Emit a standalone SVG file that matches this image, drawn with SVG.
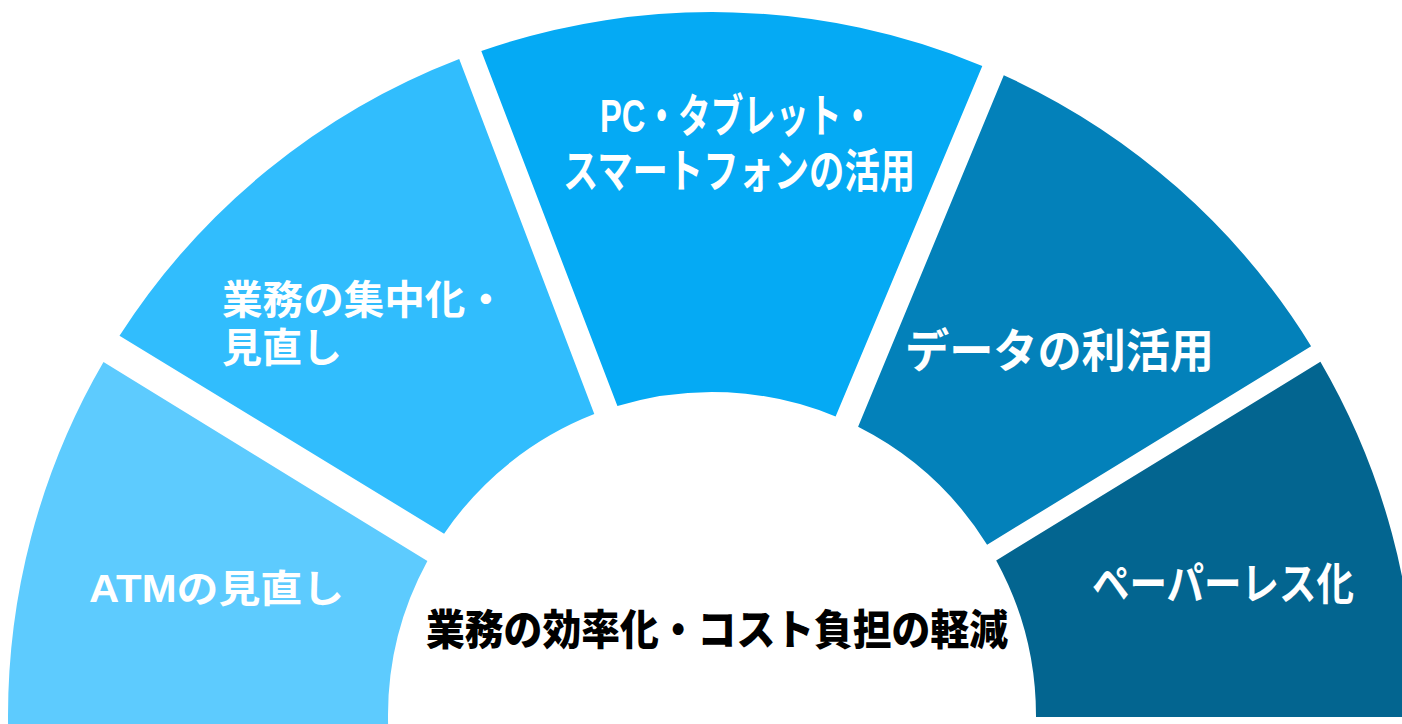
<svg xmlns="http://www.w3.org/2000/svg" width="1402" height="724" viewBox="0 0 1402 724">
  <style>
    .lbl { font-family: "Liberation Sans", "Noto Sans CJK JP", sans-serif; font-weight: bold; fill: #ffffff; }
    .ctr { font-family: "Noto Sans CJK JP", "Noto Sans", sans-serif; font-weight: 900; fill: #000000; }
  </style>
  <rect x="0" y="0" width="1402" height="724" fill="#ffffff"/>
  <g id="seg-atm">
    <path d="M 8.07 726 A 704 704 0 0 1 103.5 362 L 427.4 561.1 A 324 324 0 0 0 388.15 726 Z" fill="#5DCBFE"/>
    <text class="lbl" x="89" y="602" font-size="38" textLength="255" lengthAdjust="spacingAndGlyphs">ATMの見直し</text>
  </g>
  <g id="seg-gyomu">
    <path d="M 119.5 335.8 A 704 704 0 0 1 459.2 59 L 594.3 414.1 A 324 324 0 0 0 444.1 533.7 Z" fill="#31BDFD"/>
    <text class="lbl" font-size="40"><tspan x="222" y="314" textLength="284" lengthAdjust="spacingAndGlyphs">業務の集中化・</tspan><tspan x="222" y="362">見直し</tspan></text>
  </g>
  <g id="seg-pc">
    <path d="M 481.3 51 A 704 704 0 0 1 982.3 66 L 835.6 416.5 A 324 324 0 0 0 617.4 406.1 Z" fill="#05AAF4"/>
    <text class="lbl" font-size="46" text-anchor="middle"><tspan x="737" y="132" textLength="274" lengthAdjust="spacingAndGlyphs">PC・タブレット・</tspan><tspan x="739" y="187" textLength="352" lengthAdjust="spacingAndGlyphs">スマートフォンの活用</tspan></text>
  </g>
  <g id="seg-data">
    <path d="M 1003.8 75.2 A 704 704 0 0 1 1311.1 346.2 L 987.1 544.8 A 324 324 0 0 0 858.1 426.8 Z" fill="#0381BA"/>
    <text class="lbl" x="905" y="367" font-size="46" textLength="309" lengthAdjust="spacingAndGlyphs">データの利活用</text>
  </g>
  <g id="seg-paperless">
    <path d="M 1320.4 361.8 A 704 704 0 0 1 1416 717 L 1036 717 A 324 324 0 0 0 996.2 560.4 Z" fill="#036590"/>
    <text class="lbl" x="1092" y="600" font-size="44" textLength="262" lengthAdjust="spacingAndGlyphs">ペーパーレス化</text>
  </g>
  <g id="center">
    <text class="ctr" x="717" y="645" font-size="42" text-anchor="middle" textLength="582" lengthAdjust="spacingAndGlyphs">業務の効率化・コスト負担の軽減</text>
  </g>
</svg>
